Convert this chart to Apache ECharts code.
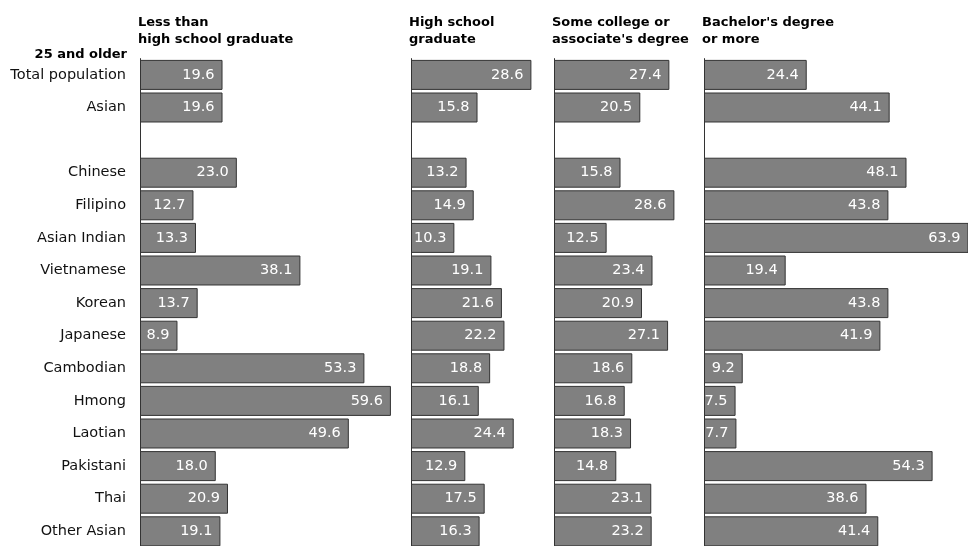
<!DOCTYPE html>
<html>
<head>
<meta charset="utf-8">
<script src="https://cdn.jsdelivr.net/npm/echarts@6/dist/echarts.min.js"></script>
<style>
  html, body { margin: 0; padding: 0; background: #fff; }
  #chart { width: 968px; height: 546px; }
</style>
</head>
<body>
<div id="chart"></div>
<script>
// Educational attainment, population 25 and older (percent)
const categories = ['Total population', 'Asian', '', 'Chinese', 'Filipino', 'Asian Indian',
  'Vietnamese', 'Korean', 'Japanese', 'Cambodian', 'Hmong', 'Laotian', 'Pakistani', 'Thai', 'Other Asian'];

const lessThanHighSchool = [19.6, 19.6, null, 23.0, 12.7, 13.3, 38.1, 13.7, 8.9, 53.3, 59.6, 49.6, 18.0, 20.9, 19.1];
const highSchoolGraduate = [28.6, 15.8, null, 13.2, 14.9, 10.3, 19.1, 21.6, 22.2, 18.8, 16.1, 24.4, 12.9, 17.5, 16.3];
const someCollege = [27.4, 20.5, null, 15.8, 28.6, 12.5, 23.4, 20.9, 27.1, 18.6, 16.8, 18.3, 14.8, 23.1, 23.2];
const bachelorsOrMore = [24.4, 44.1, null, 48.1, 43.8, 63.9, 19.4, 43.8, 41.9, 9.2, 7.5, 7.7, 54.3, 38.6, 41.4];

const panelTitles = ['Less than\nhigh school graduate', 'High school\ngraduate',
  'Some college or\nassociate\'s degree', 'Bachelor\'s degree\nor more'];
const panelData = [lessThanHighSchool, highSchoolGraduate, someCollege, bachelorsOrMore];

// Shared horizontal scale: pixels per percentage point, so all panels read alike
const PX_PER_UNIT = 4.21;
const panels = [
  { left: 140, width: 260 },
  { left: 411, width: 130 },
  { left: 554, width: 130 },
  { left: 704, width: 264 }
];
const ROW = 32.6;
const TOP = 58.6;

const FONT = 'DejaVu Sans';

const grid = [], xAxis = [], yAxis = [], series = [], graphic = [];
panels.forEach((p, i) => {
  grid.push({
    left: p.left, width: p.width, top: TOP, height: ROW * categories.length,
    outerBoundsMode: 'none', containLabel: false
  });
  xAxis.push({ gridIndex: i, type: 'value', min: 0, max: p.width / PX_PER_UNIT, show: false });
  yAxis.push({
    gridIndex: i, type: 'category', data: categories, inverse: true,
    axisLine: { show: true, lineStyle: { color: '#333', width: 1 } },
    axisTick: { show: false },
    splitLine: { show: false },
    axisLabel: {
      show: i === 0, margin: 14, color: '#111',
      fontFamily: FONT, fontSize: 14.5, padding: [7, 0, 0, 0]
    }
  });
  series.push({
    type: 'bar', xAxisIndex: i, yAxisIndex: i,
    data: panelData[i],
    barCategoryGap: '8%',
    clip: true,
    itemStyle: { color: '#808080', borderColor: '#333', borderWidth: 1 },
    label: {
      show: true, position: 'insideRight', distance: 8,
      color: '#fff', fontFamily: FONT, fontSize: 14.5,
      formatter: d => d.value == null ? '' : Number(d.value).toFixed(1)
    },
    silent: true, animation: false
  });
  graphic.push({
    type: 'text', left: p.left - 2, top: 14,
    style: {
      text: panelTitles[i], fill: '#000', font: 'bold 13px "' + FONT + '"',
      lineHeight: 17
    }
  });
});

graphic.push({
  type: 'text', right: 968 - 127, top: 48,
  style: { text: '25 and older', fill: '#000', font: 'bold 13px "' + FONT + '"', textAlign: 'right' }
});

const chart = echarts.init(document.getElementById('chart'), null, { renderer: 'canvas' });
chart.setOption({
  animation: false,
  backgroundColor: '#fff',
  grid, xAxis, yAxis, series, graphic
});
</script>
</body>
</html>
